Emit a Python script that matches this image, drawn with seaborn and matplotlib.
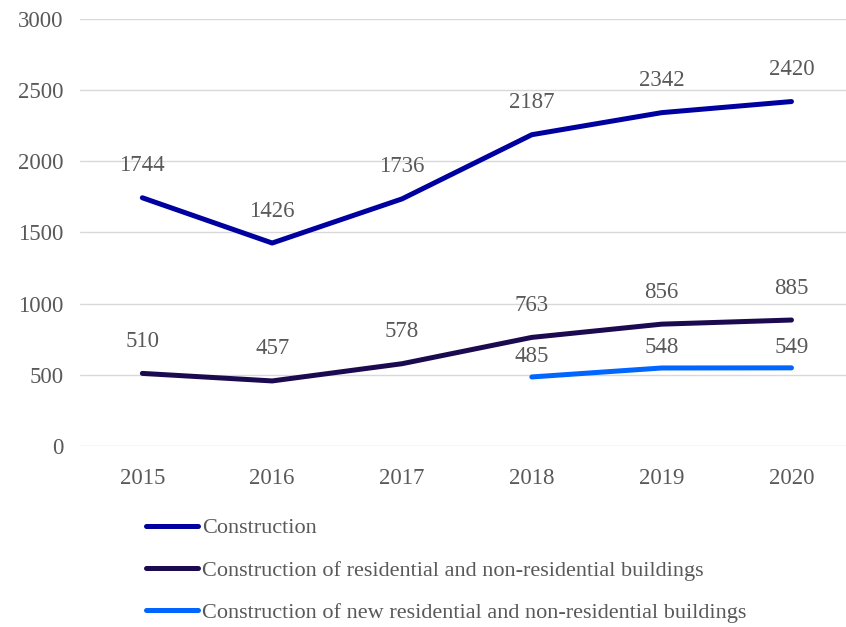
import matplotlib
matplotlib.use("Agg")
import matplotlib.pyplot as plt
import seaborn as sns
import pandas as pd
from matplotlib.lines import Line2D

years = [2015, 2016, 2017, 2018, 2019, 2020]
construction = [1744, 1426, 1736, 2187, 2342, 2420]
residential = [510, 457, 578, 763, 856, 885]
new_years = [2018, 2019, 2020]
new_residential = [485, 548, 549]

series_names = [
    "Construction",
    "Construction of residential and non-residential buildings",
    "Construction of new residential and non-residential buildings",
]
colors = ["#0000A0", "#1B0A50", "#0066FF"]

rows = []
for y, v in zip(years, construction):
    rows.append((y, v, series_names[0]))
for y, v in zip(years, residential):
    rows.append((y, v, series_names[1]))
for y, v in zip(new_years, new_residential):
    rows.append((y, v, series_names[2]))
df = pd.DataFrame(rows, columns=["year", "value", "series"])

sns.set_theme(style="white")
plt.rcParams["font.family"] = ["Liberation Serif", "DejaVu Serif"]
txt = "#595959"
fs = 16.5

fig = plt.figure(figsize=(8.46, 6.27), dpi=100)
ax = fig.add_axes([0.0946, 0.2887, 0.9054, 0.6810])

sns.lineplot(data=df, x="year", y="value", hue="series", hue_order=series_names,
             palette=colors, linewidth=3.6, ax=ax, legend=False,
             solid_capstyle="round", solid_joinstyle="round")

offsets = [23, 23, 14.5]
for name, off in zip(series_names, offsets):
    sub = df[df.series == name]
    for x, v in zip(sub.year, sub.value):
        ax.annotate(f"{v}", (x, v), xytext=(0, off), textcoords="offset points",
                    ha="center", va="center", fontsize=fs, color=txt)

ax.set_ylim(0, 3000)
ax.set_xlim(2014.52, 2020.42)
ax.set_yticks(range(0, 3001, 500))
ax.set_xticks(years)
ax.set_xticklabels([str(y) for y in years])
ax.tick_params(axis="both", labelsize=fs, colors=txt, length=0)
ax.tick_params(axis="y", pad=12)
ax.tick_params(axis="x", pad=16)
ax.grid(axis="y", color="#d9d9d9", linewidth=1)
ax.set_axisbelow(True)
for s in ax.spines.values():
    s.set_visible(False)
ax.set_xlabel("")
ax.set_ylabel("")

handles = [Line2D([0], [0], color=c, linewidth=3.6, solid_capstyle="round") for c in colors]
leg = fig.legend(handles, series_names, loc="upper left", bbox_to_anchor=(0.172, 0.174),
                 frameon=False, fontsize=16, handlelength=2.35, handletextpad=0.2,
                 labelspacing=0.98, borderaxespad=0, borderpad=0)
for t in leg.get_texts():
    t.set_color(txt)

fig.savefig("out.png", dpi=100)
